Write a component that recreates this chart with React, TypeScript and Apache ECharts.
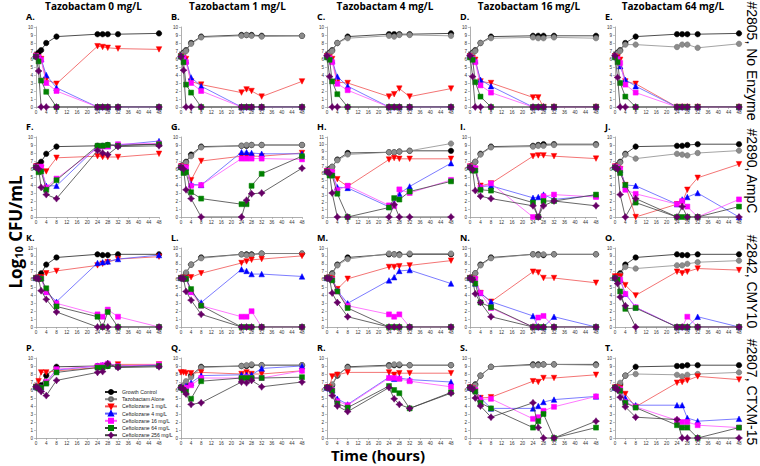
import React, { useEffect, useRef } from "react";
import * as echarts from "echarts";

// ---------- data ----------
const TIMES = [0, 1, 2, 4, 8, 24, 26, 28, 32, 48];
const SERIES_NAMES = [
  "Growth Control",
  "Tazobactam Alone",
  "Ceftolozane 1 mg/L",
  "Ceftolozane 4 mg/L",
  "Ceftolozane 16 mg/L",
  "Ceftolozane 64 mg/L",
  "Ceftolozane 256 mg/L",
];
const COLUMN_TITLES = [
  "Tazobactam 0 mg/L",
  "Tazobactam 1 mg/L",
  "Tazobactam 4 mg/L",
  "Tazobactam 16 mg/L",
  "Tazobactam 64 mg/L",
];
const ROW_LABELS = ["#2805, No Enzyme", "#2890, AmpC", "#2842, CMY10", "#2807, CTXM-15"];
const PANEL_LETTERS = ["A.", "B.", "C.", "D.", "E.", "F.", "G.", "H.", "I.", "J.", "K.", "L.", "M.", "N.", "O.", "P.", "Q.", "R.", "S.", "T."];
const Y_MAX = [10, 10, 10, 10, 10, 10, 10, 11, 10, 10, 10, 10, 10, 10, 10, 10, 10, 10, 10, 10];

// Each panel: gc, ta, c1, c4, c16, c64, c256 (log10 CFU/mL at TIMES)
const PANEL_A = {
  gc: [6.5, 6.8, 7.1, 8.0, 8.8, 9.1, 9.1, 9.1, 9.1, 9.2],
  ta: null,
  c1: [6.4, 6.2, 6.0, 3.4, 2.9, 7.6, 7.5, 7.4, 7.3, 7.2],
  c4: [6.4, 6.3, 6.0, 4.0, 2.4, 0, 0, 0, 0, 0],
  c16: [6.4, 6.2, 5.9, 3.0, 2.0, 0, 0, 0, 0, 0],
  c64: [6.3, 5.7, 3.3, 1.9, 0, 0, 0, 0, 0, 0],
  c256: [6.3, 4.5, 0, 0, 0, 0, 0, 0, 0, 0],
};
const PANEL_B = {
  gc: [6.5, 6.8, 7.1, 8.0, 8.8, 9.0, 9.0, 9.0, 8.9, 8.9],
  ta: [6.4, 6.7, 7.0, 7.9, 8.7, 8.9, 9.0, 8.9, 8.8, 8.9],
  c1: [6.3, 6.1, 6.0, 3.2, 2.8, 1.8, 2.2, 2.0, 1.3, 3.2],
  c4: [6.4, 6.2, 5.8, 3.7, 2.6, 0, 0, 0, 0, 0],
  c16: [6.3, 6.1, 5.6, 3.0, 2.0, 0, 0, 0, 0, 0],
  c64: [6.3, 5.6, 2.8, 1.8, 0, 0, 0, 0, 0, 0],
  c256: [6.3, 4.6, 0, 0, 0, 0, 0, 0, 0, 0],
};
const PANEL_C = {
  gc: [6.5, 6.8, 7.1, 8.0, 8.8, 9.1, 9.1, 9.1, 9.1, 9.2],
  ta: [6.4, 6.7, 7.0, 8.0, 8.6, 8.9, 8.8, 9.0, 9.0, 8.9],
  c1: [6.3, 6.2, 6.0, 3.1, 3.0, 1.3, 1.6, 2.3, 1.3, 2.3],
  c4: [6.4, 6.2, 5.8, 3.8, 2.6, 0, 0, 0, 0, 0],
  c16: [6.3, 6.1, 5.6, 2.9, 2.1, 0, 0, 0, 0, 0],
  c64: [6.2, 5.9, 3.2, 1.6, 0, 0, 0, 0, 0, 0],
  c256: [6.4, 3.8, 0, 0, 0, 0, 0, 0, 0, 0],
};
const PANEL_D = {
  gc: [6.5, 6.8, 7.1, 8.0, 8.8, 8.9, 8.9, 8.9, 8.9, 8.9],
  ta: [6.4, 6.7, 7.0, 8.0, 8.6, 8.7, 8.6, 8.6, 8.7, 8.6],
  c1: [6.3, 6.1, 5.9, 3.2, 3.0, 1.2, 1.2, 0, 0, 0],
  c4: [6.4, 6.2, 5.8, 3.4, 2.6, 0, 0, 0, 0, 0],
  c16: [6.3, 6.0, 5.6, 2.7, 1.8, 0, 0, 0, 0, 0],
  c64: [6.2, 5.9, 3.1, 1.3, 0, 0, 0, 0, 0, 0],
  c256: [6.4, 3.8, 0, 0, 0, 0, 0, 0, 0, 0],
};
const PANEL_E = {
  gc: [6.5, 6.8, 7.1, 8.0, 8.8, 9.1, 9.1, 9.1, 9.1, 9.2],
  ta: [6.4, 6.7, 7.0, 7.8, 7.8, 7.5, 7.8, 7.8, 7.4, 7.9],
  c1: [6.3, 6.2, 5.9, 3.2, 2.9, 0, 0, 0, 0, 0],
  c4: [6.4, 6.1, 5.1, 3.4, 2.6, 0, 0, 0, 0, 0],
  c16: [6.3, 6.0, 5.5, 2.8, 1.8, 0, 0, 0, 0, 0],
  c64: [6.2, 5.6, 3.0, 1.3, 0, 0, 0, 0, 0, 0],
  c256: [6.4, 3.7, 0, 0, 0, 0, 0, 0, 0, 0],
};
const PANEL_F = {
  gc: [6.4, 6.5, 6.9, 7.9, 8.8, 8.9, 8.9, 9.0, 9.0, 9.1],
  ta: null,
  c1: [6.3, 6.1, 6.1, 5.7, 7.4, 7.6, 7.5, 7.5, 7.5, 7.9],
  c4: [6.3, 6.1, 6.0, 3.9, 3.9, 8.8, 8.9, 8.9, 9.0, 9.5],
  c16: [6.3, 6.2, 6.3, 3.7, 4.8, 8.6, 8.8, 8.8, 9.1, 9.2],
  c64: [6.2, 5.6, 5.7, 3.4, 4.6, 8.9, 8.9, 9.0, 8.9, 9.1],
  c256: [6.2, 6.0, 3.7, 2.8, 2.3, 8.3, 8.0, 7.8, 8.8, 8.9],
};
const PANEL_G = {
  gc: [6.4, 6.5, 6.9, 7.8, 8.8, 8.9, 8.9, 9.0, 9.0, 9.0],
  ta: [6.3, 6.5, 6.8, 7.6, 8.7, 8.9, 9.0, 9.0, 9.0, 9.0],
  c1: [6.3, 6.1, 6.2, 4.6, 7.0, 7.6, 7.6, 7.6, 7.6, 8.0],
  c4: [6.3, 6.1, 6.2, 4.1, 4.0, 8.1, 8.1, 8.0, 7.9, 7.9],
  c16: [6.3, 6.2, 6.2, 3.9, 4.0, 7.3, 7.3, 7.3, 7.3, 7.2],
  c64: [6.2, 5.5, 5.6, 3.1, 2.3, 1.6, 1.6, 3.9, 5.4, 7.6],
  c256: [6.2, 6.0, 3.4, 2.3, 0, 0, 2.1, 2.9, 3.0, 6.1],
};
const PANEL_H = {
  gc: [6.4, 6.6, 6.9, 7.9, 8.8, 8.9, 8.9, 9.0, 9.1, 9.1],
  ta: [6.3, 6.5, 6.9, 7.8, 8.6, 8.9, 8.9, 9.0, 9.1, 10.1],
  c1: [6.3, 6.1, 6.1, 5.2, 4.2, 7.9, 8.1, 8.0, 8.0, 8.0],
  c4: [6.3, 6.1, 6.0, 4.1, 4.0, 1.4, 1.9, 3.2, 4.2, 7.4],
  c16: [6.3, 6.2, 6.2, 3.7, 4.3, 1.6, 1.5, 3.8, 3.3, 5.1],
  c64: [6.2, 5.7, 5.7, 3.2, 0, 1.3, 2.6, 2.4, 3.5, 4.9],
  c256: [6.2, 6.0, 3.3, 0, 0, 0, 1.7, 0, 0, 0],
};
const PANEL_I = {
  gc: [6.3, 6.5, 6.9, 7.9, 8.8, 8.9, 9.0, 9.1, 9.1, 9.1],
  ta: [6.2, 6.5, 6.9, 7.8, 8.7, 8.8, 8.9, 8.9, 9.0, 9.0],
  c1: [6.3, 6.0, 6.0, 3.9, 4.2, 7.6, 7.7, 7.7, 7.6, 7.3],
  c4: [6.3, 6.0, 6.0, 3.8, 3.9, 2.4, 2.5, 2.8, 2.2, 2.7],
  c16: [6.3, 6.1, 6.1, 3.7, 4.2, 0, 0, 2.6, 2.8, 2.5],
  c64: [6.2, 5.8, 5.8, 3.4, 3.3, 1.8, 0, 2.0, 2.0, 2.8],
  c256: [6.2, 5.9, 3.3, 2.6, 2.3, 1.4, 0, 1.4, 2.0, 1.4],
};
const PANEL_J = {
  gc: [6.3, 6.5, 6.9, 7.9, 8.8, 8.9, 8.9, 9.0, 9.1, 9.1],
  ta: [6.2, 6.4, 6.8, 7.8, 7.3, 7.9, 7.8, 7.7, 8.0, 8.3],
  c1: [6.3, 6.1, 6.0, 4.0, 0, 1.6, 1.8, 3.4, 4.9, 6.6],
  c4: [6.3, 6.1, 5.9, 4.0, 3.9, 1.6, 2.2, 2.5, 3.0, 0],
  c16: [6.3, 6.2, 6.0, 3.4, 2.9, 1.6, 2.0, 1.3, 0, 2.2],
  c64: [6.2, 6.0, 5.5, 4.0, 1.8, 0, 0, 0, 0, 1.3],
  c256: [6.2, 6.0, 2.8, 0, 2.3, 0, 1.3, 0, 0, 0],
};
const PANEL_K = {
  gc: [6.2, 6.3, 6.8, 7.9, 8.8, 9.2, 9.1, 9.1, 9.2, 9.2],
  ta: null,
  c1: [6.2, 6.2, 6.3, 6.8, 7.1, 7.8, 8.0, 8.2, 8.6, 8.9],
  c4: [6.2, 6.2, 6.2, 4.5, 3.2, 8.1, 8.2, 8.3, 8.6, 9.1],
  c16: [6.2, 6.1, 6.1, 4.4, 3.0, 1.6, 1.3, 2.2, 1.3, 0],
  c64: [6.2, 6.1, 6.1, 4.9, 2.6, 1.3, 0, 1.9, 0, 0],
  c256: [6.2, 6.1, 4.6, 3.5, 1.9, 0, 0, 0, 0, 0],
};
const PANEL_L = {
  gc: [6.2, 6.3, 6.8, 7.9, 8.8, 9.2, 9.2, 9.2, 9.3, 9.3],
  ta: [6.2, 6.3, 6.9, 7.9, 8.7, 9.2, 9.1, 9.1, 9.3, 9.3],
  c1: [6.2, 6.2, 6.2, 6.3, 6.8, 8.1, 8.3, 8.5, 8.6, 9.0],
  c4: [6.2, 6.2, 6.2, 4.5, 3.1, 7.3, 7.1, 6.7, 6.7, 6.4],
  c16: [6.2, 6.1, 6.1, 4.4, 2.7, 1.3, 1.3, 2.0, 0, 0],
  c64: [6.2, 6.1, 6.1, 4.8, 2.7, 0, 0, 0, 0, 0],
  c256: [6.2, 6.1, 4.5, 3.4, 1.6, 0, 0, 0, 0, 0],
};
const PANEL_M = {
  gc: [6.2, 6.3, 6.8, 7.9, 8.8, 9.2, 9.2, 9.2, 9.2, 9.2],
  ta: [6.2, 6.3, 6.7, 7.8, 8.6, 9.3, 9.2, 9.1, 9.3, 9.3],
  c1: [6.2, 6.2, 6.1, 4.8, 6.1, 7.6, 7.6, 7.7, 7.8, 8.4],
  c4: [6.2, 6.2, 6.1, 4.6, 3.0, 5.9, 6.3, 7.1, 7.2, 5.5],
  c16: [6.2, 6.1, 6.0, 4.5, 2.7, 1.6, 1.3, 1.6, 0, 0],
  c64: [6.2, 6.1, 5.9, 4.5, 2.4, 0, 0, 0, 0, 0],
  c256: [6.2, 6.1, 4.3, 3.1, 1.3, 0, 0, 0, 0, 0],
};
const PANEL_N = {
  gc: [6.2, 6.3, 6.8, 7.9, 8.8, 9.2, 9.2, 9.1, 9.2, 9.2],
  ta: [6.2, 6.3, 6.8, 7.8, 8.7, 9.2, 9.1, 9.2, 9.2, 9.2],
  c1: [6.2, 6.1, 6.0, 4.3, 3.2, 7.0, 6.9, 6.2, 6.2, 5.6],
  c4: [6.2, 6.0, 5.5, 4.3, 3.2, 1.4, 0, 0, 1.3, 0],
  c16: [6.2, 6.0, 6.1, 4.3, 2.4, 0, 1.2, 1.4, 0, 0],
  c64: [6.2, 6.0, 5.5, 3.1, 2.5, 0, 0, 0, 0, 0],
  c256: [6.2, 6.0, 4.2, 3.1, 1.3, 0, 0, 0, 0, 0],
};
const PANEL_O = {
  gc: [6.2, 6.3, 6.8, 7.9, 8.8, 9.2, 9.1, 9.1, 9.2, 9.2],
  ta: [6.2, 6.3, 6.6, 7.6, 7.4, 7.8, 7.8, 8.0, 8.2, 8.4],
  c1: [6.4, 6.4, 6.4, 5.3, 4.0, 7.0, 6.8, 7.0, 7.4, 7.2],
  c4: [6.2, 6.1, 6.0, 4.2, 2.5, 0, 0, 0, 1.3, 0],
  c16: [6.2, 6.1, 6.0, 4.2, 2.5, 0, 0, 1.3, 0, 0],
  c64: [6.2, 6.0, 4.5, 2.3, 2.4, 0, 0, 0, 0, 0],
  c256: [6.2, 5.5, 3.8, 2.7, 0, 0, 0, 0, 0, 0],
};
const PANEL_P = {
  gc: [6.4, 6.4, 6.6, 7.8, 8.9, 9.0, 9.0, 9.0, 9.0, 9.1],
  ta: null,
  c1: [6.4, 7.1, 8.2, 8.2, 8.4, 8.8, 8.9, 9.1, 9.2, 9.2],
  c4: [6.4, 6.3, 6.3, 7.0, 8.5, 9.0, 9.1, 9.3, 9.0, 9.1],
  c16: [6.4, 6.3, 6.3, 7.0, 8.6, 9.0, 9.1, 9.3, 9.0, 9.2],
  c64: [6.4, 6.2, 6.3, 6.8, 8.2, 8.8, 8.8, 9.0, 8.9, 9.0],
  c256: [6.4, 6.2, 5.8, 5.3, 7.2, 8.2, 8.3, 9.3, 8.8, 8.9],
};
const PANEL_Q = {
  gc: [6.4, 6.5, 6.7, 7.8, 8.9, 9.0, 9.0, 9.1, 9.1, 9.1],
  ta: [6.3, 6.6, 7.1, 7.6, 8.8, 9.0, 9.1, 9.2, 9.1, 9.1],
  c1: [8.2, 8.2, 8.1, 8.1, 8.2, 8.0, 8.2, 8.0, 8.0, 8.4],
  c4: [6.4, 6.3, 6.5, 6.9, 7.8, 7.9, 7.9, 7.9, 8.7, 9.0],
  c16: [6.3, 6.2, 6.3, 6.6, 7.5, 7.5, 7.6, 7.5, 7.5, 8.4],
  c64: [6.3, 6.0, 5.8, 4.9, 7.1, 7.5, 7.5, 7.5, 7.5, 7.6],
  c256: [6.3, 6.1, 5.5, 4.2, 4.4, 7.0, 6.9, 7.2, 6.4, 7.0],
};
const PANEL_R = {
  gc: [6.3, 6.3, 6.6, 7.8, 8.9, 9.1, 9.1, 9.1, 9.1, 9.1],
  ta: [6.3, 6.3, 6.7, 7.9, 8.8, 9.0, 9.2, 9.2, 9.1, 9.1],
  c1: [6.3, 6.3, 7.7, 7.9, 8.2, 8.2, 7.9, 8.1, 8.1, 8.1],
  c4: [6.3, 6.2, 6.0, 4.9, 4.2, 7.6, 7.4, 7.5, 7.3, 7.0],
  c16: [6.3, 6.2, 6.0, 4.6, 4.1, 7.5, 7.5, 7.4, 7.1, 6.4],
  c64: [6.3, 6.2, 5.9, 4.3, 3.8, 6.5, 6.0, 5.6, 3.7, 5.7],
  c256: [6.3, 6.2, 5.3, 4.0, 3.3, 6.3, 4.9, 4.2, 3.7, 5.6],
};
const PANEL_S = {
  gc: [6.3, 6.3, 6.7, 7.8, 8.9, 9.2, 9.2, 9.2, 9.2, 9.2],
  ta: [6.3, 6.3, 6.6, 7.8, 8.9, 9.1, 9.1, 9.2, 9.2, 9.1],
  c1: [6.3, 6.2, 5.9, 5.0, 5.1, 7.1, 7.0, 7.5, 7.5, 7.9],
  c4: [6.3, 6.2, 6.0, 5.0, 3.7, 3.7, 4.0, 4.5, 4.8, 5.2],
  c16: [6.3, 6.2, 6.0, 4.8, 4.9, 2.4, 2.6, 3.4, 3.9, 5.2],
  c64: [6.3, 6.1, 5.8, 4.4, 3.7, 1.3, 2.1, 3.0, 0, 1.3],
  c256: [6.3, 6.1, 5.0, 4.0, 2.6, 4.4, 1.3, 0, 0, 2.1],
};
const PANEL_T = {
  gc: [6.3, 6.4, 6.7, 7.8, 8.9, 9.0, 9.0, 9.1, 9.1, 9.1],
  ta: [6.3, 6.4, 6.9, 7.8, 8.0, 7.9, 7.7, 7.9, 8.0, 8.2],
  c1: [6.3, 6.3, 6.2, 5.5, 3.9, 6.9, 7.0, 7.2, 7.7, 7.3],
  c4: [6.3, 6.2, 6.0, 5.0, 4.1, 4.1, 4.1, 2.5, 2.1, 2.4],
  c16: [6.3, 6.2, 6.1, 4.5, 3.9, 2.2, 2.0, 2.0, 1.6, 1.3],
  c64: [6.3, 6.1, 5.9, 4.4, 3.8, 1.6, 1.3, 1.3, 0, 1.3],
  c256: [6.3, 6.0, 5.1, 3.9, 2.6, 2.3, 0, 0, 0, 0],
};

const PANELS = [
  PANEL_A, PANEL_B, PANEL_C, PANEL_D, PANEL_E,
  PANEL_F, PANEL_G, PANEL_H, PANEL_I, PANEL_J,
  PANEL_K, PANEL_L, PANEL_M, PANEL_N, PANEL_O,
  PANEL_P, PANEL_Q, PANEL_R, PANEL_S, PANEL_T,
];
const SERIES_KEYS = ["gc", "ta", "c1", "c4", "c16", "c64", "c256"];

// ---------- layout & style ----------
const COL_X = [
  [36, 159],
  [181, 302],
  [327, 451],
  [470, 596],
  [615, 739],
];
const ROW_Y = [
  [27, 107],
  [137, 217],
  [248, 327],
  [358, 438],
];
const STAR = "path://M0,-10 L4.2,-4.2 L10,0 L4.2,4.2 L0,10 L-4.2,4.2 L-10,0 L-4.2,-4.2 Z";
const STYLES = [
  { symbol: "circle", color: "#000000", line: "#202020", size: 5.5, rotate: 0, border: "#000000" },
  { symbol: "circle", color: "#8c8c8c", line: "#8c8c8c", size: 5.5, rotate: 0, border: "#6a6a6a" },
  { symbol: "triangle", color: "#ff0000", line: "#f05050", size: 5.5, rotate: 180, border: "#ff0000" },
  { symbol: "triangle", color: "#0000ff", line: "#5a5aff", size: 5.5, rotate: 0, border: "#0000ff" },
  { symbol: "rect", color: "#ff00ff", line: "#ff55ff", size: 5, rotate: 0, border: "#ff00ff" },
  { symbol: "rect", color: "#008000", line: "#404040", size: 5, rotate: 0, border: "#008000" },
  { symbol: STAR, color: "#660066", line: "#404040", size: 7, rotate: 0, border: "#660066" },
];

const FONT = "'Liberation Sans', Arial, sans-serif";
const BOLD_FONT = "'Open Sans', 'Liberation Sans', sans-serif";

export default function App() {
  const ref = useRef<HTMLDivElement>(null);
  useEffect(() => {
    document.body.style.margin = "0";
    if (!ref.current) return;
    const chart = echarts.init(ref.current, undefined, { renderer: "svg" });

    const grid: any[] = [];
    const xAxis: any[] = [];
    const yAxis: any[] = [];
    const series: any[] = [];
    const graphic: any[] = [];

    PANELS.forEach((panel: any, i) => {
      const r = Math.floor(i / 5);
      const c = i % 5;
      const [x0, x1] = COL_X[c];
      const [y0, y1] = ROW_Y[r];
      grid.push({ left: x0, top: y0, width: x1 - x0, height: y1 - y0 });
      xAxis.push({
        type: "value",
        gridIndex: i,
        min: 0,
        max: 48,
        interval: 4,
        axisLine: { lineStyle: { color: "#9a9a9a", width: 0.8 } },
        axisTick: { show: true, length: 2, lineStyle: { color: "#9a9a9a", width: 0.6 } },
        axisLabel: { fontSize: 4.6, color: "#333", margin: 3, fontFamily: FONT },
        splitLine: { show: false },
      });
      yAxis.push({
        type: "value",
        gridIndex: i,
        min: 0,
        max: Y_MAX[i],
        interval: 1,
        axisLine: { show: true, lineStyle: { color: "#9a9a9a", width: 0.8 } },
        axisTick: { show: true, length: 2, lineStyle: { color: "#9a9a9a", width: 0.6 } },
        axisLabel: { fontSize: 4.6, color: "#333", margin: 3, fontFamily: FONT },
        splitLine: { show: false },
      });
      SERIES_KEYS.forEach((k, s) => {
        const vals = panel[k];
        if (!vals) return;
        const st = STYLES[s];
        series.push({
          type: "line",
          name: SERIES_NAMES[s],
          xAxisIndex: i,
          yAxisIndex: i,
          data: TIMES.map((t, j) => [t, vals[j]]),
          symbol: st.symbol,
          symbolSize: st.size,
          symbolRotate: st.rotate,
          showAllSymbol: true,
          lineStyle: { color: st.line, width: 0.8 },
          itemStyle: { color: st.color, borderColor: st.border, borderWidth: 0.5 },
          z: 2 + s,
          emphasis: { disabled: true },
        });
      });
      graphic.push({
        type: "text",
        left: x0 - 10,
        top: y0 - 15,
        style: { text: PANEL_LETTERS[i], font: `bold 9px ${BOLD_FONT}`, fill: "#000" },
      });
    });

    COLUMN_TITLES.forEach((t, c) => {
      const [x0, x1] = COL_X[c];
      graphic.push({
        type: "text",
        x: (x0 + x1) / 2 - 4,
        y: 6,
        style: { text: t, font: `bold 10px ${BOLD_FONT}`, fill: "#000", align: "center", verticalAlign: "middle" },
      });
    });

    ROW_LABELS.forEach((t, r) => {
      const [y0, y1] = ROW_Y[r];
      graphic.push({
        type: "text",
        x: 752,
        y: (y0 + y1) / 2 - 6,
        rotation: -Math.PI / 2,
        style: { text: t, font: `14px ${FONT}`, fill: "#000", align: "center", verticalAlign: "middle" },
      });
    });

    graphic.push({
      type: "text",
      x: 13,
      y: 232,
      rotation: Math.PI / 2,
      style: {
        text: "{a|Log}{s|10}{a| CFU/mL}",
        align: "center",
        verticalAlign: "middle",
        rich: {
          a: { font: `bold 17px ${BOLD_FONT}`, fill: "#000", verticalAlign: "bottom", lineHeight: 22 },
          s: { font: `bold 11px ${BOLD_FONT}`, fill: "#000", verticalAlign: "bottom", lineHeight: 22, padding: [0, 0, 0, 0] },
        },
      },
    });
    graphic.push({
      type: "text",
      x: 378,
      y: 455,
      style: { text: "Time (hours)", font: `bold 15px ${BOLD_FONT}`, fill: "#000", align: "center", verticalAlign: "middle" },
    });

    chart.setOption({
      animation: false,
      grid,
      xAxis,
      yAxis,
      series,
      graphic,
      legend: {
        data: SERIES_NAMES,
        orient: "vertical",
        left: 99,
        top: 384,
        itemWidth: 12,
        itemHeight: 5,
        itemGap: 1.2,
        selectedMode: false,
        textStyle: { fontSize: 5.2, color: "#222", fontFamily: FONT },
      },
    });
    return () => chart.dispose();
  }, []);
  return <div ref={ref} style={{ width: 760, height: 466 }} />;
}
